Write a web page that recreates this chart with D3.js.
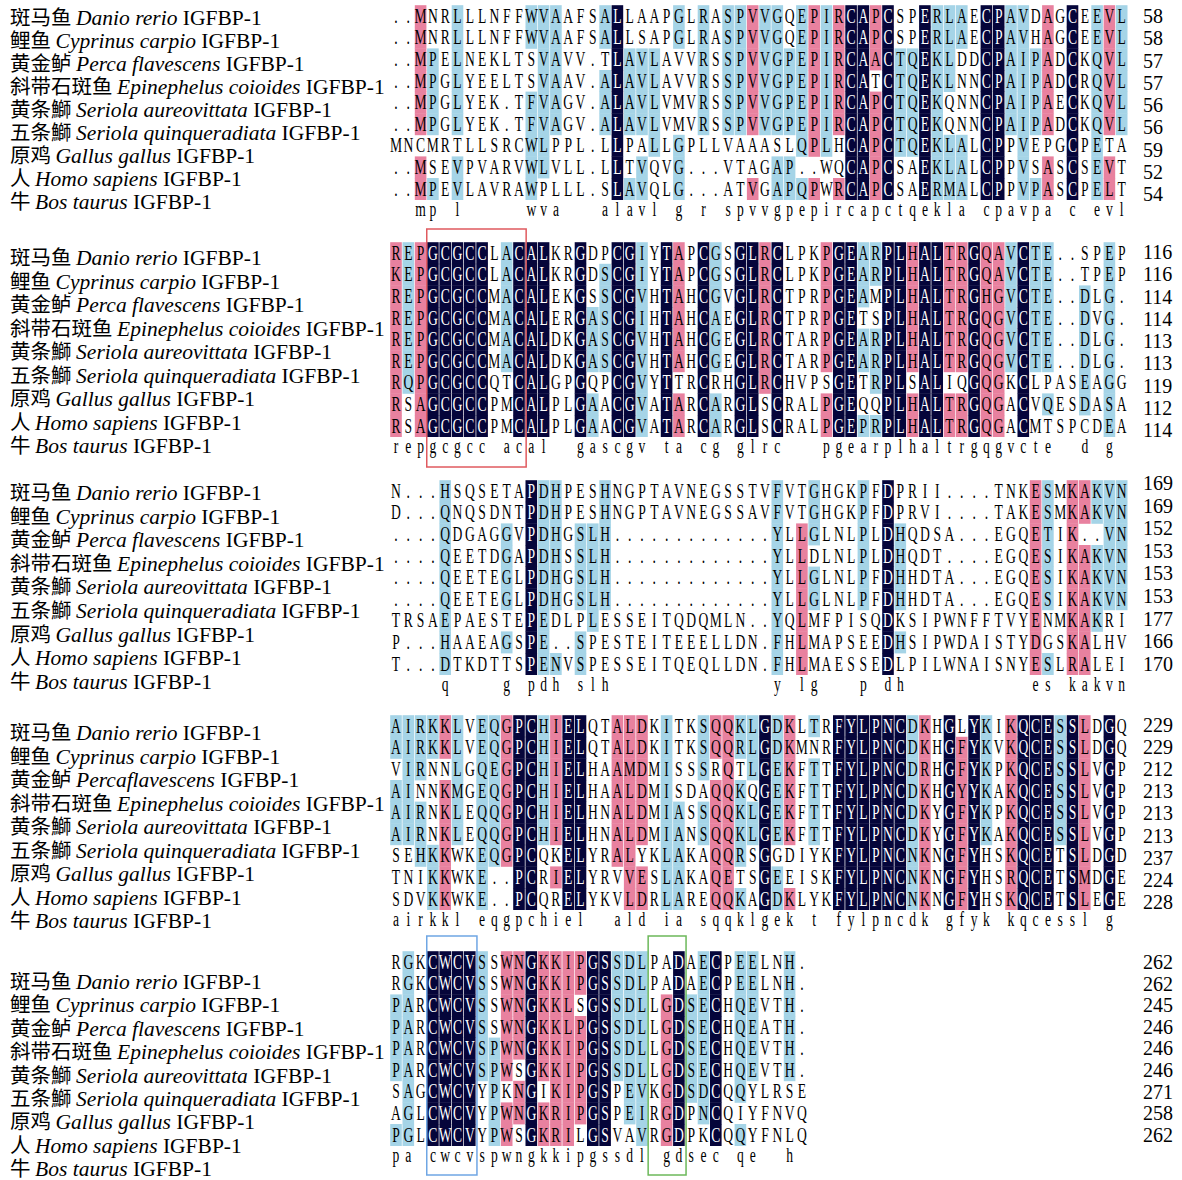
<!DOCTYPE html>
<html>
<head>
<meta charset="utf-8">
<script src="https://cdn.jsdelivr.net/npm/d3@7"></script>
<style>
  body { margin: 0; background: #fff; }
</style>
</head>
<body>
<div id="chart"></div>
<script>
// species shown on every block
const speciesCn = ["斑马鱼", "鲤鱼", "黄金鲈", "斜带石斑鱼", "黄条鰤", "五条鰤", "原鸡", "人", "牛"];
const speciesLatin = ["Danio rerio", "Cyprinus carpio", "Perca flavescens", "Epinephelus coioides",
  "Seriola aureovittata", "Seriola quinqueradiata", "Gallus gallus", "Homo sapiens", "Bos taurus"];
const protein = "IGFBP-1";
// block 4 in the figure prints the perch name without a space
const latinOverride = { 3: { 2: "Percaflavescens" } };

const block1 = [
  "..MNRLLLNFFWVAAFSALLAAPGLRASPVVGQEPIRCAPCSPERLAECPAVDAGCEEVL",
  "..MNRLLLNFFWVAAFSALLSAPGLRASPVVGQEPIRCAPCSPERLAECPAVHAGCEEVL",
  "..MPELNEKLTSVAVV.TLAVLAVVRSSPVVGPEPIRCAACTQEKLDDCPAIPADCKQVL",
  "..MPGLYEELTSVAAV.ALAVLAVVRSSPVVGPEPIRCATCTQEKLNNCPAIPADCRQVL",
  "..MPGLYEK.TFVAGV.ALAVLVMVRSSPVVGPEPIRCAPCTQEKQNNCPAIPAECKQVL",
  "..MPGLYEK.TFVAGV.ALAVLVMVRSSPVVGPEPIRCAPCTQEKQNNCPAIPADCKQVL",
  "MNCMRTLLSRCWLPPL.LLPALLGPLLVAAASLQPLHCAPCTQEKLALCPPVEPGCPETA",
  "..MSEVPVARVWLVLL.LLTVQVG...VTAGAP..WQCAPCSAEKLALCPPVSASCSEVT",
  "..MPEVLAVRAWPLLL.SLAVQLG...ATVGAPQPWRCAPCSAERMALCPPVPASCPELT"
];
const block2 = [
  "REPGCGCCLACALKRGDPCGIYTAPCGSGLRCLPKPGEARPLHALTRGQAVCTE..SPEP",
  "KEPGCGCCLACALKRGDSCGIYTAPCGSGLRCLPKPGEARPLHALTRGQAVCTE..TPEP",
  "REPGCGCCMACALEKGSSCGVHTAHCGVGLRCTPRPGEAMPLHALTRGHGVCTE..DLG.",
  "REPGCGCCMACALERGASCGIHTAHCAEGLRCTPRPGETSPLHALTRGQGVCTE..DVG.",
  "REPGCGCCMACALDKGASCGVHTAHCGEGLRCTARPGEARPLHALTRGQGVCTE..DLG.",
  "REPGCGCCMACALDKGASCGVHTAHCGEGLRCTARPGEARPLHALTRGQGVCTE..DLG.",
  "RQPGCGCCQTCALGPGQPCGVYTTRCRHGLRCHVPSGETRPLSALIQGQGKCLPASEAGG",
  "RSAGCGCCPMCALPLGAACGVATARCARGLSCRALPGEQQPLHALTRGQGACVQESDASA",
  "RSAGCGCCPMCALPLGAACGVATARCARGLSCRALPGEPRPLHALTRGQGACMTSPCDEA"
];
const block3 = [
  "N...HSQSETAPDHPESHNGPTAVNEGSSTVFVTGHGKPFDPRII....TNKESMKAKVN",
  "D...QNQSDNTPDHPESHNGPTAVNEGSSAVFVTGHGKPFDPRVI....TAKESMKAKVN",
  "....QDGAGGVPDHGSLH.............YLLGLNLPLDHQDSA...EGQETIK..VN",
  "....QEETDGAPDHSSLH.............YLLDLNLPLDHQDT....EGQESIKAKVN",
  "....QEETEGLPDHGSLH.............YLLGLNLPFDHHDTA...EGQESIKAKVN",
  "....QEETEGLPDHGSLH.............YLLGLNLPFDHHDTA...EGQESIKAKVN",
  "TRSAEPAESTEPEDLPLESSEITQDQMLN..YQLMFPISQDKSIPWNFFTVYENMKAKRI",
  "P...HAAEAGSPE..SPESTEITEEELLDN.FHLMAPSEEDHSIPWDAISTYDGSKALHV",
  "T...DTKDTTSPENVSPESSEITQEQLLDN.FHLMAESSEDLPILWNAISNYESLRALEI"
];
const block4 = [
  "AIRKKLVEQGPCHIELQTALDKITKSQQKLGDKLTRFYLPNCDKHGLYKIKQCESSLDGQ",
  "AIRKKLVEQGPCHIELQTALDKITKSQQRLGDKMNRFYLPNCDKHGFYKVKQCESSLDGQ",
  "VIRNNLGQEGPCHIELHAAMDMISSSRQTLGEKFTTFYLPNCDRHGFYKPKQCESSLVGP",
  "AINNKMGEQGPCHIELHAALDMISDAQQKQGEKFTTFYLPNCDKHGYYKAKQCESSLVGP",
  "AIRNKLEQQGPCHIELHNALDMIASSQQKLGEKFTTFYLPNCDKYGFYKPKQCESSLVGP",
  "AIRNKLEQQGPCHIELHNALDMIANSQQKLGEKFTTFYLPNCDKYGFYKAKQCESSLVGP",
  "SEHKKWKEQGPCQKELYRALYKLAKAQQRSGGDIYKFYLPNCNKNGFYHSKQCETSLDGD",
  "TNIKKWKE..PCRIELYRVVESLAKAQETSGEEISKFYLPNCNKNGFYHSRQCETSMDGE",
  "SDVKKWKE..PCQRELYKVLDRLAREQQKAGDKLYKFYLPNCNKNGFYHSKQCETSLEGE"
];
const block5 = [
  "RGKCWCVSSWNGKKIPGSSDLPADAECPEELNH.",
  "RGKCWCVSSWNGKKIPGSSDLPADAECPEELNH.",
  "PARCWCVSSWNGKKLSGSSDLLGDSECHQEVTH.",
  "PARCWCVSSWNGKKLPGSSDLLGDSECHQEATH.",
  "PARCWCVSPWNGKKIPGSSDLLGDSECHQEVTH.",
  "PARCWCVSPWSGKKIPGSSDLLGDSECHQEVTH.",
  "SAGCWCVYPKNGIKIPGSPEVKGDSDCQQYLRSE",
  "AGLCWCVYPWNGKRIPGSPEIRGDPNCQIYFNVQ",
  "PGLCWCVYPWSGKRILGSVAVRGDPKCQQYFNLQ"
];

// residue counts printed at the right of each row
const ends1 = [58, 58, 57, 57, 56, 56, 59, 52, 54];
const ends2 = [116, 116, 114, 114, 113, 113, 119, 112, 114];
const ends3 = [169, 169, 152, 153, 153, 153, 177, 166, 170];
const ends4 = [229, 229, 212, 213, 213, 213, 237, 224, 228];
const ends5 = [262, 262, 245, 246, 246, 246, 271, 258, 262];

// similar (non-identical) residues shaded like the column consensus: [row, column], 1-based
const similar1 = [[8, 6], [9, 6], [5, 12], [6, 12], [7, 13], [8, 13], [8, 32], [9, 32], [7, 34], [9, 34],
  [7, 36], [3, 40], [1, 45], [2, 45], [9, 45], [9, 46], [3, 52], [4, 52], [5, 52], [6, 52],
  [3, 58], [4, 58], [5, 58], [6, 58], [9, 59]];
const similar2 = [[2, 1], [7, 2], [8, 3], [9, 3], [1, 21], [2, 21], [4, 21], [4, 27], [8, 27], [9, 27],
  [9, 39], [3, 49], [1, 50], [2, 50], [8, 54], [7, 57], [1, 59], [2, 59], [8, 59], [9, 59]];
const similar3 = [[1, 5], [7, 5], [8, 5], [9, 5], [7, 13], [8, 13], [9, 13], [9, 14], [1, 32], [2, 32],
  [8, 32], [9, 32], [8, 53], [3, 54], [9, 56]];
const similar4 = [[7, 3], [4, 6], [3, 8], [5, 8], [6, 8], [3, 9], [3, 20], [8, 20], [8, 21], [7, 23],
  [8, 23], [9, 23], [8, 28], [2, 29], [7, 29], [1, 32], [2, 32], [9, 32], [7, 43], [8, 43],
  [9, 43], [3, 44], [4, 47], [8, 51], [8, 57]];
const similar5 = [[1, 2], [2, 2], [8, 2], [9, 2], [8, 14], [9, 14], [3, 15], [4, 15], [7, 20], [8, 20],
  [7, 21], [8, 21], [9, 21], [7, 26], [8, 26], [1, 29], [2, 29]];

// highlighted motifs: block index, first and last column
const motifs = [
  { block: 1, from: 4, to: 11, color: "#e05a5f" },
  { block: 4, from: 4, to: 7, color: "#6fa6e4" },
  { block: 4, from: 22, to: 24, color: "#6cb85a" }
];

const blocks = [
  { seqs: block1, ends: ends1, similar: similar1 },
  { seqs: block2, ends: ends2, similar: similar2 },
  { seqs: block3, ends: ends3, similar: similar3 },
  { seqs: block4, ends: ends4, similar: similar4 },
  { seqs: block5, ends: ends5, similar: similar5 }
];

// layout
const W = 1182, H = 1180;
const pitch = 12.3, colX0 = 396;
const rowStep = 21.6;
const rowTop = [16, 253, 491, 726, 962];
const labelTop = [18, 258, 493, 733, 982];
const labelStep = [23.0, 23.5, 23.6, 23.5, 23.4];
const numTop = [16, 252, 483, 725, 962];
const numStep = [22.25, 22.25, 22.6, 22.1, 21.6];
const shade = ["none", "#a5d4e7", "#e8819f", "#05053a"];

const svg = d3.select("#chart").append("svg")
  .attr("width", W).attr("height", H)
  .style("font-family", "'Liberation Serif', 'Times New Roman', serif");

function columnStats(seqs) {
  const n = seqs[0].length;
  const stats = [];
  for (let c = 0; c < n; c++) {
    const counts = d3.rollup(seqs.map((s) => s[c]).filter((ch) => ch !== "."), (v) => v.length, (d) => d);
    let best = null, bestN = 0;
    counts.forEach((v, k) => { if (v > bestN) { best = k; bestN = v; } });
    const level = bestN === seqs.length ? 3 : bestN >= 7 ? 2 : bestN >= 5 ? 1 : 0;
    stats.push({ best, level });
  }
  return stats;
}

blocks.forEach((blk, b) => {
  const nCols = blk.seqs[0].length;
  const x = d3.scaleLinear().domain([1, 60]).range([colX0, colX0 + 59 * pitch]);
  const y = d3.scaleLinear().domain([0, 9]).range([rowTop[b], rowTop[b] + 9 * rowStep]);
  const stats = columnStats(blk.seqs);
  const simSet = new Set(blk.similar.map(([r, c]) => `${r - 1}-${c - 1}`));

  const cells = [];
  blk.seqs.forEach((s, r) => {
    for (let c = 0; c < nCols; c++) {
      const ch = s[c];
      const st = stats[c];
      let level = 0;
      if (st.level > 0 && (ch === st.best || simSet.has(`${r}-${c}`))) level = st.level;
      cells.push({ r, c: c + 1, ch, level });
    }
  });

  const g = svg.append("g").attr("class", `block${b + 1}`);

  g.selectAll("rect.cell")
    .data(cells.filter((d) => d.level > 0))
    .join("rect")
    .attr("class", "cell")
    .attr("x", (d) => x(d.c) - pitch / 2 + 0.35)
    .attr("y", (d) => y(d.r) - rowStep / 2)
    .attr("width", pitch - 0.7)
    .attr("height", rowStep + 0.4)
    .attr("fill", (d) => shade[d.level]);

  g.selectAll("text.res")
    .data(cells)
    .join("text")
    .attr("class", "res")
    .attr("transform", (d) => `translate(${x(d.c)},${y(d.r) + 6.8}) scale(0.68,1)`)
    .attr("text-anchor", "middle")
    .attr("font-size", 20)
    .attr("fill", (d) => (d.level === 3 ? "#fff" : "#000"))
    .text((d) => d.ch);

  // consensus line
  g.selectAll("text.cons")
    .data(stats.map((st, i) => ({ c: i + 1, ch: st.level > 0 ? st.best.toLowerCase() : "" })).filter((d) => d.ch))
    .join("text")
    .attr("class", "cons")
    .attr("transform", (d) => `translate(${x(d.c)},${y(9) + 5.5}) scale(0.68,1)`)
    .attr("text-anchor", "middle")
    .attr("font-size", 20)
    .text((d) => d.ch);

  // residue numbers
  g.selectAll("text.num")
    .data(blk.ends)
    .join("text")
    .attr("class", "num")
    .attr("x", 1143)
    .attr("y", (d, i) => numTop[b] + i * numStep[b] + 7)
    .attr("font-size", 20)
    .text((d) => d);

  // species labels
  const labels = g.selectAll("text.label")
    .data(speciesCn.map((cn, i) => ({ cn, latin: (latinOverride[b] && latinOverride[b][i]) || speciesLatin[i], i })))
    .join("text")
    .attr("class", "label")
    .attr("x", 10)
    .attr("y", (d) => labelTop[b] + d.i * labelStep[b] + 7)
    .attr("font-size", 21.5);
  labels.append("tspan").style("font-family", "'Noto Sans CJK SC', sans-serif").attr("font-size", 20.5).text((d) => d.cn + " ");
  labels.append("tspan").attr("font-style", "italic").text((d) => d.latin);
  labels.append("tspan").text(" " + protein);

  motifs.filter((m) => m.block === b).forEach((m) => {
    const top = b === 1 ? 229 : 936;
    const bottom = b === 1 ? 467 : 1175;
    g.append("rect")
      .attr("x", x(m.from) - pitch / 2)
      .attr("y", top)
      .attr("width", x(m.to) - x(m.from) + pitch + 1)
      .attr("height", bottom - top)
      .attr("fill", "none")
      .attr("stroke", m.color)
      .attr("stroke-width", 1.5);
  });
});
</script>
</body>
</html>
